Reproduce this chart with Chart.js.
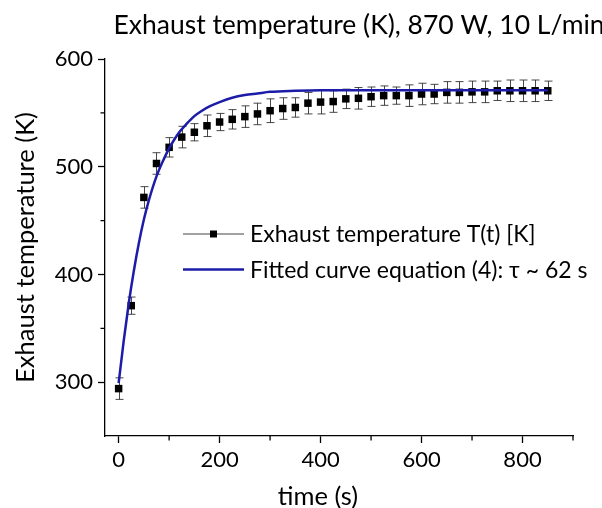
<!DOCTYPE html>
<html>
<head>
<meta charset="utf-8">
<script src="https://cdn.jsdelivr.net/npm/chart.js@4.4.1/dist/chart.umd.min.js"></script>
<style>
  html, body { margin: 0; padding: 0; background: #fff; }
  #wrap { width: 602px; height: 508px; }
</style>
</head>
<body>
<div id="wrap"><canvas id="tempChart" width="602" height="508"></canvas></div>
<script>
// measured points (every 25 s)
var timeS = [0, 25, 50, 75, 100, 125, 150, 175, 200, 225, 250, 275, 300, 325, 350, 375, 400,
  425, 450, 475, 500, 525, 550, 575, 600, 625, 650, 675, 700, 725, 750, 775, 800, 825, 850];
var tempK = [294, 371, 471.5, 503, 518, 527.5, 532, 538, 541.5, 544, 546.5, 549, 552, 554, 555, 559, 560,
  560.5, 563, 563.5, 565, 566, 566, 566, 567.5, 567.5, 569, 569, 569.5, 569.5, 570.5, 570.5, 570.5, 570.5, 570.5];
var errK = [10, 8, 10, 10, 9, 10, 8, 10, 8, 9, 10, 10, 11, 10, 9, 10, 11,
  10, 9, 10, 9, 9, 8, 10, 10, 9, 10, 10, 10, 10, 9, 10, 10, 10, 9];

// fitted curve
var fitTime = [0, 10, 20, 30, 40, 50, 60, 75, 90, 100, 110, 120, 135, 150, 165, 180, 200, 225, 250, 275, 300, 350, 400, 500, 600, 700, 850];
var fitTemp = [299, 338, 373, 403, 429, 451, 469, 491, 507.5, 517, 525, 532, 540, 547, 552, 556, 560, 564, 566.5, 568, 569.5, 570.5, 571, 571, 571, 571, 571];

var xTicks = [0, 200, 400, 600, 800];
var xMinor = [100, 300, 500, 700, 900];
var yTicks = [300, 400, 500, 600];
var yMinor = [350, 450, 550];

var titleText = 'Exhaust temperature (K), 870 W, 10 L/min';
var xTitle = 'time (s)';
var yTitle = 'Exhaust temperature (K)';
var legendText = ['Exhaust temperature T(t) [K]', 'Fitted curve equation (4): \u03c4 ~ 62 s'];

var FONT = 'Lato, "Open Sans", sans-serif';
var blue = '#1c1ca8';

var pointsData = timeS.map(function(t, i) { return { x: t, y: tempK[i] }; });
var fitData = fitTime.map(function(t, i) { return { x: t, y: fitTemp[i] }; });

var extras = {
  id: 'extras',
  beforeDatasetsDraw: function(chart) {
    // error bars under the squares
    var ctx = chart.ctx, xs = chart.scales.x, ys = chart.scales.y;
    ctx.save();
    ctx.strokeStyle = 'rgba(40,40,40,0.85)';
    ctx.lineWidth = 1;
    ctx.beginPath();
    for (var i = 0; i < timeS.length; i++) {
      var px = Math.round(xs.getPixelForValue(timeS[i])) + 0.5;
      var top = ys.getPixelForValue(tempK[i] + errK[i]);
      var bot = ys.getPixelForValue(tempK[i] - errK[i]);
      ctx.moveTo(px, top); ctx.lineTo(px, bot);
      ctx.moveTo(px - 4, top); ctx.lineTo(px + 4, top);
      ctx.moveTo(px - 4, bot); ctx.lineTo(px + 4, bot);
    }
    ctx.stroke();
    ctx.restore();
  },
  afterDraw: function(chart) {
    var ctx = chart.ctx, xs = chart.scales.x, ys = chart.scales.y, area = chart.chartArea;
    ctx.save();
    // minor ticks
    ctx.strokeStyle = '#000';
    ctx.lineWidth = 1.3;
    ctx.beginPath();
    xMinor.forEach(function(v) {
      var px = xs.getPixelForValue(v);
      ctx.moveTo(px, area.bottom); ctx.lineTo(px, area.bottom + 4.5);
    });
    yMinor.forEach(function(v) {
      var py = ys.getPixelForValue(v);
      ctx.moveTo(area.left, py); ctx.lineTo(area.left - 4.5, py);
    });
    ctx.stroke();

    // title
    ctx.fillStyle = '#000';
    ctx.textBaseline = 'middle';
    ctx.textAlign = 'center';
    ctx.font = '26.5px ' + FONT;
    ctx.fillText(titleText, 359, 25);

    // x axis title
    ctx.font = '25.5px ' + FONT;
    ctx.fillText(xTitle, 318, 497);

    // legend
    ctx.textAlign = 'left';
    ctx.font = '23px ' + FONT;
    var lx0 = 183, lx1 = 244, rows = [234, 269.5];
    ctx.strokeStyle = '#444';
    ctx.lineWidth = 1;
    ctx.beginPath();
    ctx.moveTo(lx0, rows[0]); ctx.lineTo(lx1, rows[0]);
    ctx.stroke();
    ctx.fillStyle = '#000';
    ctx.fillRect((lx0 + lx1) / 2 - 3.5, rows[0] - 3.5, 7, 7);
    ctx.strokeStyle = blue;
    ctx.lineWidth = 2.5;
    ctx.beginPath();
    ctx.moveTo(lx0, rows[1]); ctx.lineTo(lx1, rows[1]);
    ctx.stroke();
    ctx.fillStyle = '#000';
    ctx.fillText(legendText[0], 250, rows[0] + 1);
    ctx.fillText(legendText[1], 250, rows[1] + 1);
    ctx.restore();
  }
};

var ctx = document.getElementById('tempChart').getContext('2d');
var myChart = new Chart(ctx, {
  type: 'scatter',
  data: {
    datasets: [{
      type: 'line',
      label: legendText[1],
      data: fitData,
      borderColor: blue,
      borderWidth: 2.5,
      pointRadius: 0,
      fill: false,
      cubicInterpolationMode: 'monotone',
      order: 0
    }, {
      label: legendText[0],
      data: pointsData,
      pointStyle: 'rect',
      pointRadius: 5.3,
      backgroundColor: '#000',
      borderColor: '#000',
      borderWidth: 0,
      showLine: false,
      order: 1
    }]
  },
  options: {
    responsive: false,
    animation: false,
    layout: { padding: { top: 59, right: 29, bottom: 0, left: 0 } },
    plugins: {
      legend: { display: false },
      title: { display: false },
      tooltip: { enabled: false }
    },
    scales: {
      x: {
        type: 'linear',
        min: -27, max: 900,
        afterFit: function(s) { s.height = 72; },
        afterBuildTicks: function(s) { s.ticks = xTicks.map(function(v) { return { value: v }; }); },
        ticks: { color: '#000', font: { family: FONT, size: 22 }, padding: 4, maxRotation: 0 },
        grid: { drawOnChartArea: false, drawTicks: true, tickLength: 7, tickColor: '#000', tickWidth: 1.3 },
        border: { display: true, color: '#000', width: 1.3 }
      },
      y: {
        type: 'linear',
        min: 250, max: 600,
        afterFit: function(s) { s.width = 105; },
        afterBuildTicks: function(s) { s.ticks = yTicks.map(function(v) { return { value: v }; }); },
        ticks: { color: '#000', font: { family: FONT, size: 22 }, padding: 5 },
        grid: { drawOnChartArea: false, drawTicks: true, tickLength: 7, tickColor: '#000', tickWidth: 1.3 },
        border: { display: true, color: '#000', width: 1.3 },
        title: {
          display: true, text: yTitle, color: '#000',
          font: { family: FONT, size: 25.5, lineHeight: 1.2 },
          padding: { top: 10, bottom: 0 }
        }
      }
    }
  },
  plugins: [extras]
});
</script>
</body>
</html>
